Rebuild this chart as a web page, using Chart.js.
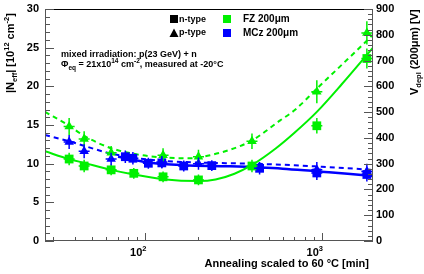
<!DOCTYPE html>
<html><head><meta charset="utf-8">
<script src="https://cdn.jsdelivr.net/npm/chart.js@4.4.1/dist/chart.umd.min.js"></script>
<style>html,body{margin:0;padding:0;background:#fff;}#wrap{width:424px;height:274px;}</style>
</head><body><div id="wrap"><canvas id="c" width="424" height="274"></canvas></div>
<script>
// ---------- data ----------
// FZ 200um, n-type (green squares)
const fzN_x   = [37, 45, 64, 86, 126, 200, 402, 937, 1800];
const fzN_y   = [10.6, 9.7, 9.2, 8.75, 8.3, 7.9, 9.7, 14.9, 23.6];
const fzN_err = [0.8, 0.8, 0.7, 0.7, 0.7, 0.7, 0.8, 1.0, 1.3];
// FZ 200um, p-type (green triangles)
const fzP_x   = [37, 45, 64, 126, 200, 402, 937, 1800];
const fzP_y   = [14.8, 13.2, 11.4, 11.1, 10.9, 12.9, 19.3, 26.9];
const fzP_err = [1.1, 1.0, 0.9, 0.9, 0.9, 1.0, 1.5, 1.5];
// MCz 200um, n-type (blue squares)
const mczN_x   = [77, 85, 104, 124, 165, 238, 444, 937, 1800];
const mczN_y   = [10.9, 10.7, 10.05, 10.1, 9.7, 9.75, 9.4, 8.8, 8.6];
const mczN_err = [0.8, 0.8, 0.7, 0.7, 0.7, 0.7, 0.8, 0.9, 0.9];
// MCz 200um, p-type (blue triangles)
const mczP_x   = [37, 45, 64, 124, 200, 937, 1800];
const mczP_y   = [12.8, 11.6, 10.6, 10.2, 10.0, 9.2, 9.0];
const mczP_err = [0.9, 0.9, 0.8, 0.8, 0.8, 1.0, 1.0];
// fitted curves
const fitFZn_x  = [27, 37, 45, 64, 86, 126, 200, 250, 320, 400, 550, 700, 937, 1300, 1950];
const fitFZn_y  = [11.6, 10.6, 10.1, 9.2, 8.6, 8.0, 7.75, 7.95, 8.7, 9.8, 12.0, 14.0, 16.7, 20.3, 25.0];
const fitFZp_x  = [27, 37, 45, 64, 90, 126, 180, 233, 302, 402, 581, 700, 937, 1300, 1780, 1950];
const fitFZp_y  = [16.7, 14.9, 13.6, 12.0, 11.2, 10.8, 10.7, 11.1, 11.8, 13.0, 15.6, 16.9, 19.7, 22.8, 25.8, 26.7];
const fitMCzP_x = [27, 37, 45, 64, 90, 126, 200, 400, 700, 1000, 1950];
const fitMCzP_y = [13.7, 12.9, 12.3, 11.3, 10.7, 10.35, 10.15, 10.0, 9.8, 9.6, 9.2];
const fitMCzN_x = [70, 104, 165, 300, 600, 937, 1400, 1950];
const fitMCzN_y = [10.9, 10.15, 9.8, 9.65, 9.35, 9.0, 8.7, 8.4];
// axes
const xRange = [27, 1950];
const yRange = [0, 30];
const vRange = [0, 900];
const yTicks = [0, 5, 10, 15, 20, 25, 30];
const vTicks = [0, 100, 200, 300, 400, 500, 600, 700, 800, 900];
const xMajorTicks = [100, 1000];
const xMajorLabels = [['10', '2'], ['10', '3']];

const GREEN = '#00f000';
const BLUE = '#0000ff';
const FONT = '"Liberation Sans", Arial, Helvetica, sans-serif';

const pts = (xs, ys) => xs.map((x, i) => ({x, y: ys[i]}));

function markerDs(xs, ys, errs, color, style, r) {
  return {data: pts(xs, ys), errs, showLine: false, pointStyle: style, pointRadius: r,
    backgroundColor: color, borderColor: color, borderWidth: 0, order: 0};
}
function fitDs(xs, ys, color, dash, w) {
  return {data: pts(xs, ys), showLine: true, pointRadius: 0, borderColor: color,
    borderWidth: w, borderDash: dash, cubicInterpolationMode: 'monotone', fill: false, order: 1};
}

function textParts(ctx, x, y, parts) {
  let cx = x;
  for (const p of parts) {
    ctx.font = 'bold ' + p.s + 'px ' + FONT;
    ctx.fillText(p.t, cx, y + (p.dy || 0));
    cx += ctx.measureText(p.t).width;
  }
  return cx;
}

const rootPlugin = {
  id: 'rootStyle',
  afterDatasetsDraw(chart) {
    const ctx = chart.ctx, xs = chart.scales.x, ys = chart.scales.y;
    ctx.save();
    chart.data.datasets.forEach(ds => {
      if (!ds.errs) return;
      ctx.strokeStyle = ds.borderColor; ctx.lineWidth = 1.5;
      ds.data.forEach((p, i) => {
        const px = xs.getPixelForValue(p.x);
        const py = ys.getPixelForValue(p.y);
        ctx.beginPath();
        ctx.moveTo(px, ys.getPixelForValue(p.y - ds.errs[i]));
        ctx.lineTo(px, ys.getPixelForValue(p.y + ds.errs[i]));
        ctx.moveTo(px - 5.5, py); ctx.lineTo(px + 5.5, py);
        ctx.stroke();
      });
    });
    ctx.restore();
  },
  afterDraw(chart) {
    const ctx = chart.ctx, a = chart.chartArea;
    const xs = chart.scales.x, ys = chart.scales.y, vs = chart.scales.y2;
    const L = a.left, R = a.right, T = a.top, B = a.bottom;
    ctx.save();
    // frame
    ctx.lineWidth = 1;
    ctx.strokeStyle = '#000';
    ctx.beginPath(); ctx.moveTo(L, T + 0.5); ctx.lineTo(R, T + 0.5); ctx.stroke();
    ctx.strokeStyle = '#555';
    ctx.beginPath();
    ctx.moveTo(L + 0.5, T); ctx.lineTo(L + 0.5, B);
    ctx.moveTo(L, B - 0.5); ctx.lineTo(R, B - 0.5);
    ctx.moveTo(R - 0.5, T); ctx.lineTo(R - 0.5, B);
    ctx.stroke();
    // left ticks
    ctx.beginPath();
    for (let v = yRange[0]; v <= yRange[1]; v += 1) {
      const py = Math.round(ys.getPixelForValue(v)) + 0.5;
      const len = (v % 5 === 0) ? 9 : 5;
      ctx.moveTo(L, py); ctx.lineTo(L + len, py);
    }
    // right ticks
    for (let v = vRange[0]; v <= vRange[1]; v += 20) {
      const py = Math.round(vs.getPixelForValue(v)) + 0.5;
      const len = (v % 100 === 0) ? 9 : 5;
      ctx.moveTo(R, py); ctx.lineTo(R - len, py);
    }
    // x ticks (log)
    for (let dec = 10; dec <= 1000; dec *= 10) {
      for (let k = 1; k <= 9; k++) {
        const v = dec * k;
        if (v < xRange[0] || v > xRange[1]) continue;
        const px = Math.round(xs.getPixelForValue(v)) + 0.5;
        const len = (k === 1) ? 8 : 4;
        ctx.moveTo(px, B); ctx.lineTo(px, B - len);
      }
    }
    ctx.stroke();
    // tick labels
    ctx.fillStyle = '#000';
    ctx.font = 'bold 11px ' + FONT;
    ctx.textBaseline = 'middle';
    ctx.textAlign = 'right';
    yTicks.forEach(v => ctx.fillText(String(v), L - 6, ys.getPixelForValue(v)));
    ctx.textAlign = 'left';
    vTicks.forEach(v => ctx.fillText(String(v), R + 3, vs.getPixelForValue(v)));
    ctx.textBaseline = 'alphabetic';
    ctx.textAlign = 'left';
    xMajorTicks.forEach((v, i) => {
      const px = xs.getPixelForValue(v);
      ctx.font = 'bold 11px ' + FONT;
      const w = ctx.measureText(xMajorLabels[i][0]).width;
      textParts(ctx, px - 3 - w, 256, [{t: xMajorLabels[i][0], s: 11}, {t: xMajorLabels[i][1], s: 7.5, dy: -5}]);
    });
    // x title
    ctx.font = 'bold 11px ' + FONT;
    ctx.textAlign = 'right';
    ctx.fillText('Annealing scaled to 60 \u00B0C [min]', R - 4, 267);
    ctx.textAlign = 'left';
    // left title (rotated)
    ctx.save();
    ctx.translate(14, 93); ctx.rotate(-Math.PI / 2);
    textParts(ctx, 0, 0, [{t: '|N', s: 11}, {t: 'eff', s: 7.5, dy: 3}, {t: '| [10', s: 11},
      {t: '12', s: 7.5, dy: -5}, {t: ' cm', s: 11}, {t: '-2', s: 7.5, dy: -5}, {t: ']', s: 11}]);
    ctx.restore();
    // right title (rotated)
    ctx.save();
    ctx.translate(418, 95); ctx.rotate(-Math.PI / 2);
    textParts(ctx, 0, 0, [{t: 'V', s: 11}, {t: 'depl', s: 7.5, dy: 3}, {t: ' (200\u03BCm) [V]', s: 11}]);
    ctx.restore();
    // legend
    ctx.fillStyle = '#000';
    ctx.fillRect(170, 15, 8, 8);
    ctx.beginPath(); ctx.moveTo(174, 28.5); ctx.lineTo(178.5, 37); ctx.lineTo(169.5, 37); ctx.closePath(); ctx.fill();
    ctx.textBaseline = 'middle';
    ctx.font = 'bold 9px ' + FONT;
    ctx.fillText('n-type', 179, 19.5);
    ctx.fillText('p-type', 179, 33);
    ctx.fillStyle = GREEN; ctx.fillRect(223, 15, 8, 8);
    ctx.fillStyle = BLUE; ctx.fillRect(223, 29, 8, 8);
    ctx.fillStyle = '#000';
    ctx.font = 'bold 10px ' + FONT;
    ctx.fillText('FZ 200\u03BCm', 243, 19);
    ctx.fillText('MCz 200\u03BCm', 243, 33);
    // annotation
    ctx.textBaseline = 'alphabetic';
    ctx.font = 'bold 9px ' + FONT;
    ctx.fillText('mixed irradiation: p(23 GeV) + n', 61, 57);
    textParts(ctx, 61, 67, [{t: '\u03A6', s: 9}, {t: 'eq', s: 6.5, dy: 2.5}, {t: ' = 21x10', s: 9},
      {t: '14', s: 6.5, dy: -4}, {t: ' cm', s: 9}, {t: '-2', s: 6.5, dy: -4}, {t: ', measured at -20\u00B0C', s: 9}]);
    ctx.restore();
  }
};

new Chart(document.getElementById('c'), {
  type: 'scatter',
  data: {datasets: [
    markerDs(fzP_x, fzP_y, fzP_err, GREEN, 'triangle', 5.5),
    markerDs(fzN_x, fzN_y, fzN_err, GREEN, 'rect', 6.2),
    markerDs(mczP_x, mczP_y, mczP_err, BLUE, 'triangle', 5.5),
    markerDs(mczN_x, mczN_y, mczN_err, BLUE, 'rect', 6.2),
    fitDs(fitFZn_x, fitFZn_y, GREEN, [], 2),
    fitDs(fitFZp_x, fitFZp_y, GREEN, [5, 4], 2),
    fitDs(fitMCzN_x, fitMCzN_y, BLUE, [], 2.5),
    fitDs(fitMCzP_x, fitMCzP_y, BLUE, [5, 4], 2)
  ]},
  options: {
    responsive: false, animation: false, devicePixelRatio: 1,
    layout: {padding: {top: 9, left: 0, right: 0, bottom: 0}},
    plugins: {legend: {display: false}, tooltip: {enabled: false}},
    scales: {
      x: {type: 'logarithmic', min: xRange[0], max: xRange[1], grid: {display: false}, border: {display: false},
        ticks: {display: false}, afterFit: s => { s.height = 33; }},
      y: {type: 'linear', position: 'left', min: yRange[0], max: yRange[1], grid: {display: false}, border: {display: false},
        ticks: {display: false}, afterFit: s => { s.width = 45; }},
      y2: {type: 'linear', position: 'right', min: vRange[0], max: vRange[1], grid: {display: false}, border: {display: false},
        ticks: {display: false}, afterFit: s => { s.width = 51; }}
    }
  },
  plugins: [rootPlugin]
});
</script>
</body></html>
